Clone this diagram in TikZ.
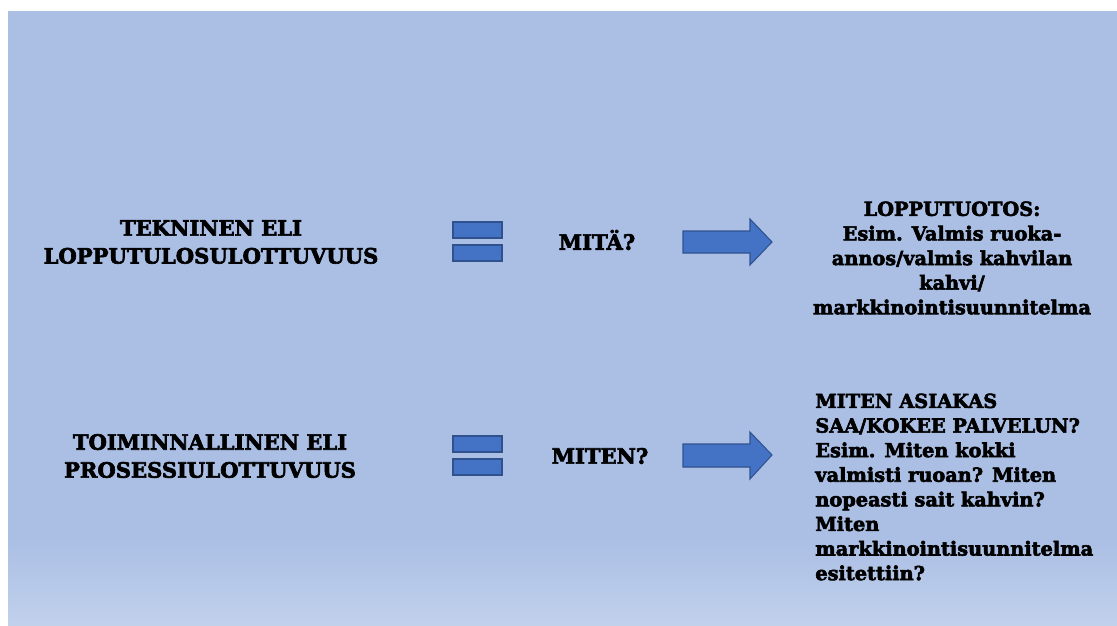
\documentclass[tikz,border=0pt]{standalone}
\usepackage{fontspec}
\setmainfont{DejaVu Serif}[BoldFeatures={FakeBold=3}]
\usepackage{tikz}
\usepackage{xcolor}
\definecolor{bgblue}{RGB}{171,191,229}
\definecolor{bglight}{RGB}{193,209,236}
\definecolor{shapeblue}{RGB}{68,114,196}
\definecolor{edgeblue}{RGB}{47,82,143}

\begin{document}
\begin{tikzpicture}[x=0.02cm,y=-0.02cm,
  bar/.style={fill=shapeblue,draw=edgeblue,line width=0.6pt},
  bigarrow/.style={fill=shapeblue,draw=edgeblue,line width=0.6pt,line join=miter}]
\useasboundingbox (0,0) rectangle (1117,626);
\fill[bgblue] (8,11) rectangle (1117,540);
\shade[top color=bgblue,bottom color=bglight] (8,539.5) rectangle (1117,626);

\begin{scope}[every node/.style={font=\bfseries\fontsize{12}{15.9}\selectfont,text=black,inner sep=0pt}]
\node[align=center] (tek) at (211,242) {TEKNINEN ELI\\LOPPUTULOSULOTTUVUUS};
\node[align=center] (toim) at (210,456) {TOIMINNALLINEN ELI\\PROSESSIULOTTUVUUS};
\node (mita) at (597,240) {MITÄ?};
\node (miten) at (600,456) {MITEN?};
\end{scope}

\begin{scope}[every node/.style={font=\bfseries\fontsize{11}{14}\selectfont,text=black,inner sep=0pt}]
\node[align=center] (tuotos) at (952,258) {LOPPUTUOTOS:\\Esim. Valmis ruoka-\\annos/valmis kahvilan\\kahvi/\\markkinointisuunnitelma};
\node[align=left,anchor=west] (asiakas) at (815,487) {MITEN ASIAKAS\\SAA/KOKEE PALVELUN?\\Esim. Miten kokki\\valmisti ruoan? Miten\\nopeasti sait kahvin?\\Miten\\markkinointisuunnitelma\\esitettiin?};
\end{scope}

\draw[bar] (453,222) rectangle (502,238);
\draw[bar] (453,245) rectangle (502,261);
\draw[bar] (453,436) rectangle (502,452);
\draw[bar] (453,459) rectangle (502,475);

\draw[bigarrow] (683,231) -- (750,231) -- (750,219) -- (772,242) -- (750,265) -- (750,253) -- (683,253) -- cycle;
\draw[bigarrow] (683,444) -- (750,444) -- (750,432) -- (772,455) -- (750,479) -- (750,467) -- (683,467) -- cycle;
\end{tikzpicture}
\end{document}
